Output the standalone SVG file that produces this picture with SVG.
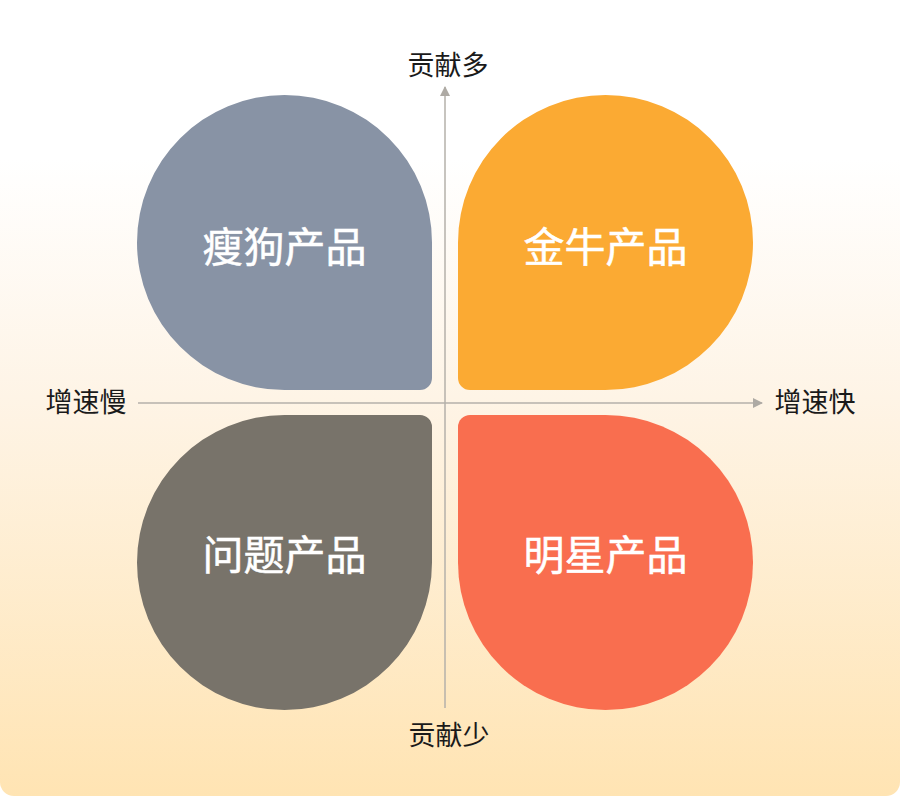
<svg xmlns="http://www.w3.org/2000/svg" width="900" height="796" viewBox="0 0 900 796">
  <defs>
    <linearGradient id="bg" x1="0" y1="0" x2="0" y2="1">
      <stop offset="0" stop-color="#FFFFFF"/>
      <stop offset="0.2" stop-color="#FFFFFF"/>
      <stop offset="0.5" stop-color="#FEF4E6"/>
      <stop offset="1" stop-color="#FFE4B3"/>
    </linearGradient>
    <marker id="arrow" viewBox="0 0 10 10" refX="9" refY="5" markerWidth="10" markerHeight="10" markerUnits="userSpaceOnUse" orient="auto">
      <path d="M0,0 L10,5 L0,10 Z" fill="#AEAAA4"/>
    </marker>
    <style>
      .axis { stroke: #B4B0AA; stroke-width: 1.5; fill: none; }
      .label { font-family: "Noto Sans CJK SC", "Noto Sans", sans-serif; font-size: 27px; fill: #1A1A1A; text-anchor: middle; }
      .title { font-family: "Noto Sans CJK SC", "Noto Sans", sans-serif; font-size: 41px; font-weight: 400; fill: #FFFFFF; stroke: #FFFFFF; stroke-width: 0.5; text-anchor: middle; }
    </style>
  </defs>
  <rect x="0" y="0" width="900" height="796" rx="14" fill="url(#bg)"/>

  <g id="connectors">
    <line class="axis" x1="445" y1="708" x2="445" y2="87" marker-end="url(#arrow)"/>
    <line class="axis" x1="138" y1="403" x2="762" y2="403" marker-end="url(#arrow)"/>
  </g>

  <g id="node-shougou">
    <path fill="#8893A5" d="M137 242.5 A147.5 147.5 0 0 1 284.5 95 A147.5 147.5 0 0 1 432 242.5 L432 378 A12 12 0 0 1 420 390 L284.5 390 A147.5 147.5 0 0 1 137 242.5 Z"/>
    <text class="title" x="284.5" y="262">瘦狗产品</text>
  </g>
  <g id="node-jinniu">
    <path fill="#FBAA33" d="M605.5 95 A147.5 147.5 0 0 1 753 242.5 A147.5 147.5 0 0 1 605.5 390 L470 390 A12 12 0 0 1 458 378 L458 242.5 A147.5 147.5 0 0 1 605.5 95 Z"/>
    <text class="title" x="605.5" y="262">金牛产品</text>
  </g>
  <g id="node-wenti">
    <path fill="#78736A" d="M137 562.5 A147.5 147.5 0 0 1 284.5 415 L420 415 A12 12 0 0 1 432 427 L432 562.5 A147.5 147.5 0 0 1 284.5 710 A147.5 147.5 0 0 1 137 562.5 Z"/>
    <text class="title" x="284.5" y="570">问题产品</text>
  </g>
  <g id="node-mingxing">
    <path fill="#F96E4F" d="M458 427 A12 12 0 0 1 470 415 L605.5 415 A147.5 147.5 0 0 1 753 562.5 A147.5 147.5 0 0 1 605.5 710 A147.5 147.5 0 0 1 458 562.5 Z"/>
    <text class="title" x="605.5" y="570">明星产品</text>
  </g>

  <g id="axis-labels">
    <text class="label" x="448" y="74.5">贡献多</text>
    <text class="label" x="449" y="744.5">贡献少</text>
    <text class="label" x="86" y="411.5">增速慢</text>
    <text class="label" x="815" y="411.5">增速快</text>
  </g>
</svg>
